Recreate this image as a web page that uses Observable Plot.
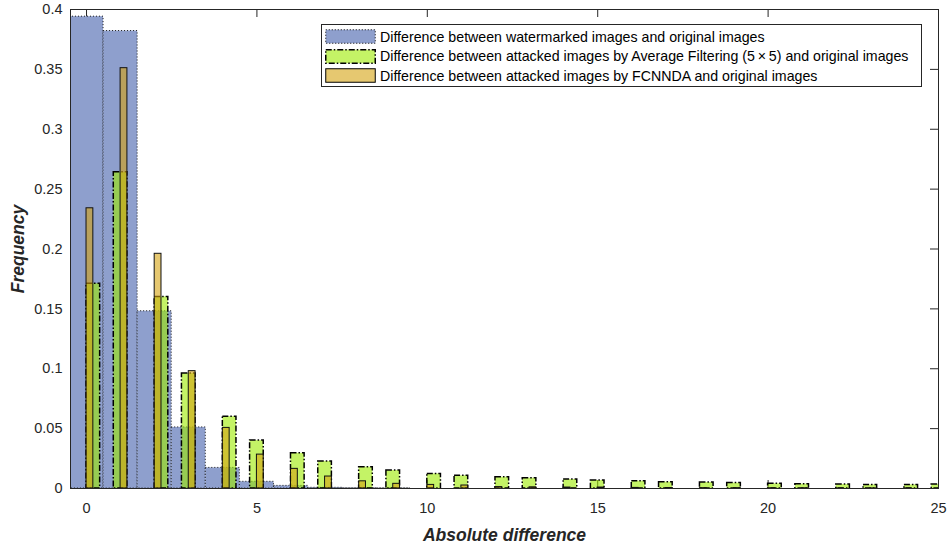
<!DOCTYPE html>
<html>
<head>
<meta charset="utf-8">
<script src="https://cdn.jsdelivr.net/npm/d3@7"></script>
<script src="https://cdn.jsdelivr.net/npm/@observablehq/plot@0.6"></script>
<style>
  html, body { margin: 0; padding: 0; background: #fff; }
  #wrap { position: relative; width: 950px; height: 551px; background: #fff; font-family: "Liberation Sans", Arial, Helvetica, sans-serif; }
  #legend { position: absolute; left: 321px; top: 24px; width: 601px; height: 63px; border: 1px solid #262626; background: #fff; box-sizing: border-box; }
  .row { position: absolute; left: 3px; height: 15px; display: flex; align-items: center; font-size: 14.2px; color: #000; white-space: nowrap; }
  .row svg { display: block; margin-right: 4px; }
</style>
</head>
<body>
<div id="wrap">
  <div id="chart"></div>
  <div id="legend"></div>
</div>
<script>
// ---- data ----
const absDiff = [0,1,2,3,4,5,6,7,8,9,10,11,12,13,14,15,16,17,18,19,20,21,22,23,24,25];

// watermarked vs original (bin width 1)
const watermarkedFreq = [0.394, 0.382, 0.148, 0.051, 0.0172, 0.0056, 0.0022, 0.0006, 0.0002, 0.0001,
  0, 0, 0, 0, 0, 0, 0, 0, 0, 0, 0, 0, 0, 0, 0, 0];

// average filtering (5x5) vs original (bin width 0.4)
const avgFilterFreq = [0.171, 0.264, 0.160, 0.096, 0.060, 0.040, 0.0294, 0.0225, 0.0178, 0.0150,
  0.0122, 0.0106, 0.0094, 0.0086, 0.0075, 0.0067, 0.0061, 0.0053, 0.0050, 0.0045,
  0.0039, 0.0036, 0.0033, 0.0030, 0.0030, 0.0033];

// FCNNDA vs original (bin width 0.2)
const fcnndaFreq = [0.234, 0.351, 0.196, 0.098, 0.0506, 0.0283, 0.0164, 0.0100, 0.0060, 0.0039,
  0.0030, 0.0025, 0.0012, 0.0010, 0.0008, 0.0008, 0.0005, 0.0004, 0.0003, 0.0003,
  0.0002, 0.0002, 0.0001, 0.0001, 0.0001, 0.0001];

const seriesNames = [
  "Difference between watermarked images and original images",
  "Difference between attacked images by Average Filtering (5\u2009\u00d7\u20095) and original images",
  "Difference between attacked images by FCNNDA and original images"
];

const xTicks = [0, 5, 10, 15, 20, 25];
const yTicks = [0, 0.05, 0.1, 0.15, 0.2, 0.25, 0.3, 0.35, 0.4];
const yTickLabels = ["0", "0.05", "0.1", "0.15", "0.2", "0.25", "0.3", "0.35", "0.4"];

// histogram bin widths
const wmBinWidth = 1;
const avgBinsPerUnit = 2.5;   // bin width 0.4
const fcBinWidth = 0.2;

// ---- tables ----
const wmData = absDiff.map((v, i) => ({x1: v - wmBinWidth / 2, x2: v + wmBinWidth / 2, f: watermarkedFreq[i]}));
const avgData = absDiff.map((v, i) => {
  const left = Math.floor(v * avgBinsPerUnit) / avgBinsPerUnit;
  return {x1: left, x2: left + 1 / avgBinsPerUnit, f: avgFilterFreq[i]};
});
const fcData = absDiff.map((v, i) => ({x1: v, x2: v + fcBinWidth, f: fcnndaFreq[i]}));

// ---- styles ----
const blueFill = "#8e9fcd";
const greenFill = "rgb(157,235,0)";
const orangeFill = "rgb(213,163,17)";
const axisColor = "#262626";
const font = "'Liberation Sans', Arial, Helvetica, sans-serif";

const W = 950, H = 551, mL = 70, mR = 12, mT = 9, mB = 63;
const frameW = W - mL - mR, frameH = H - mT - mB, tickLen = 8;

const chart = Plot.plot({
  width: W,
  height: H,
  marginLeft: mL,
  marginRight: mR,
  marginTop: mT,
  marginBottom: mB,
  style: {fontFamily: font, color: axisColor, background: "#fff"},
  x: {domain: [-0.47, 25]},
  y: {domain: [0, 0.4]},
  marks: [
    // inward tick marks (MATLAB style) on all four sides
    Plot.tickX(xTicks, {x: d => d, stroke: axisColor, insetTop: frameH - tickLen}),
    Plot.tickX(xTicks, {x: d => d, stroke: axisColor, insetBottom: frameH - tickLen}),
    Plot.tickY(yTicks, {y: d => d, stroke: axisColor, insetRight: frameW - tickLen}),
    Plot.tickY(yTicks, {y: d => d, stroke: axisColor, insetLeft: frameW - tickLen}),
    Plot.rect(wmData, {x1: "x1", x2: "x2", y1: 0, y2: "f", fill: blueFill, stroke: "#1a1a1a",
      strokeWidth: 1, strokeDasharray: "1,2", clip: true}),
    Plot.rect(avgData, {x1: "x1", x2: "x2", y1: 0, y2: "f", fill: greenFill, fillOpacity: 0.6,
      stroke: "#000", strokeWidth: 1.5, strokeDasharray: "6,2,1.5,2", clip: true}),
    Plot.rect(fcData, {x1: "x1", x2: "x2", y1: 0, y2: "f", fill: orangeFill, fillOpacity: 0.6,
      stroke: "#111", strokeWidth: 1, clip: true}),
    Plot.axisX(xTicks, {tickSize: 0, tickPadding: 14, fontSize: 14.5, label: null, fill: axisColor}),
    Plot.axisY(yTicks, {tickSize: 0, tickPadding: 8, fontSize: 14.5, label: null, fill: axisColor,
      tickFormat: d => yTickLabels[yTicks.indexOf(d)]}),
    Plot.frame({stroke: axisColor, strokeWidth: 1}),
    Plot.text(["Absolute difference"], {frameAnchor: "bottom", dy: 47, lineAnchor: "middle", textAnchor: "middle",
      fontSize: 17.5, fontWeight: "bold", fontStyle: "italic", fill: axisColor}),
    Plot.text(["Frequency"], {frameAnchor: "left", dx: -52, lineAnchor: "middle", textAnchor: "middle",
      rotate: -90, fontSize: 17.5, fontWeight: "bold", fontStyle: "italic", fill: axisColor})
  ]
});
document.getElementById("chart").appendChild(chart);

// ---- legend ----
const swatches = [
  {fill: blueFill, opacity: 1, dash: "1,2", sw: 1},
  {fill: greenFill, opacity: 0.6, dash: "6,2,1.5,2", sw: 1.5},
  {fill: orangeFill, opacity: 0.6, dash: null, sw: 1}
];
const rowTops = [4, 23.5, 43];
const legend = document.getElementById("legend");
seriesNames.forEach((name, i) => {
  const s = swatches[i];
  const row = document.createElement("div");
  row.className = "row";
  row.style.top = rowTops[i] + "px";
  row.innerHTML = `<svg width="51" height="15"><rect x="0.75" y="0.75" width="49.5" height="13.5" fill="#fff"/>` +
    `<rect x="0.75" y="0.75" width="49.5" height="13.5" fill="${s.fill}" fill-opacity="${s.opacity}" stroke="#000" stroke-width="${s.sw}"` +
    (s.dash ? ` stroke-dasharray="${s.dash}"` : "") + `/></svg><span>${name}</span>`;
  legend.appendChild(row);
});
</script>
</body>
</html>
